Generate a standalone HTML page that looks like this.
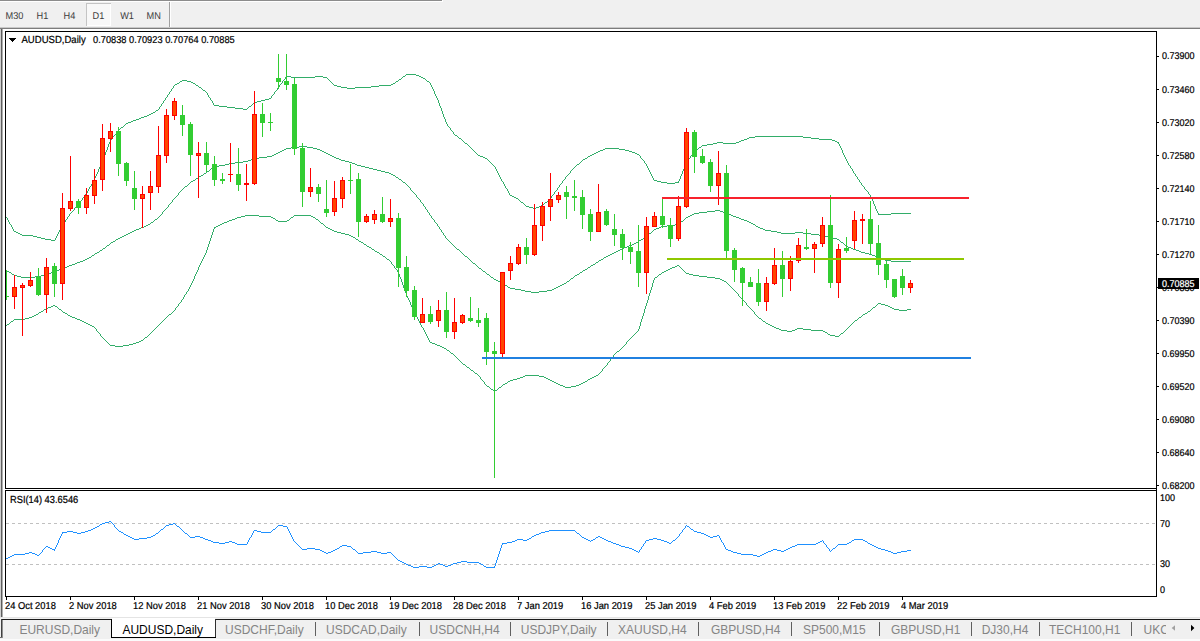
<!DOCTYPE html>
<html><head><meta charset="utf-8"><title>AUDUSD,Daily</title>
<style>
html,body{margin:0;padding:0;background:#fff;}
body{width:1200px;height:641px;position:relative;overflow:hidden;font-family:"Liberation Sans",sans-serif;}
#tb{position:absolute;left:0;top:0;width:1200px;height:27px;background:#f0f0f0;}
svg{position:absolute;left:0;top:0;}
</style></head><body>
<div id="tb">
</div>
<svg width="1200" height="641" viewBox="0 0 1200 641">
<g shape-rendering="crispEdges">
<rect x="0" y="0" width="442" height="1" fill="#8c8c8c"/>
<rect x="0" y="1" width="443" height="1" fill="#fff"/>
<rect x="442" y="0" width="1" height="2" fill="#fff"/>
<rect x="86" y="3" width="25" height="23" fill="#f8f8f8"/>
<rect x="86" y="3" width="25" height="1" fill="#c4c4c4"/>
<rect x="86" y="3" width="1" height="23" fill="#c4c4c4"/>
<rect x="110" y="4" width="1" height="22" fill="#fff"/>
<rect x="87" y="25" width="24" height="1" fill="#fff"/>
<rect x="169" y="2" width="1" height="25" fill="#a0a0a0"/>
<rect x="170" y="2" width="1" height="25" fill="#fff"/>
<rect x="0" y="27" width="1200" height="1" fill="#c8c8c8"/>
<rect x="0" y="28" width="1200" height="1" fill="#7c7c7c"/>
<rect x="0" y="29" width="1" height="589" fill="#d0d0d0"/>
<rect x="1" y="29" width="1" height="589" fill="#5e5e5e"/>
<rect x="2" y="29" width="1" height="589" fill="#b0b0b0"/>
<rect x="0" y="617" width="1200" height="1" fill="#e4e4e4"/>
<rect x="0" y="618" width="1200" height="21" fill="#f0f0f0"/>
<rect x="1" y="619" width="1199" height="1" fill="#1c1c1c"/>
<rect x="112" y="618" width="103" height="19" fill="#fff"/>
<rect x="111" y="619" width="1" height="19" fill="#000"/>
<rect x="215" y="619" width="1" height="19" fill="#303030"/>
<rect x="111" y="637" width="105" height="1" fill="#000"/>
<rect x="1" y="619" width="1" height="19" fill="#404040"/>
<rect x="2" y="620" width="1" height="18" fill="#909090"/>
<rect x="0" y="637" width="2" height="1" fill="#707070"/>
<rect x="0" y="639" width="1200" height="2" fill="#fbfbfb"/>
<rect x="315" y="622" width="1" height="14" fill="#606060"/><rect x="419" y="622" width="1" height="14" fill="#606060"/><rect x="510" y="622" width="1" height="14" fill="#606060"/><rect x="607" y="622" width="1" height="14" fill="#606060"/><rect x="698" y="622" width="1" height="14" fill="#606060"/><rect x="791" y="622" width="1" height="14" fill="#606060"/><rect x="879" y="622" width="1" height="14" fill="#606060"/><rect x="971" y="622" width="1" height="14" fill="#606060"/><rect x="1039" y="622" width="1" height="14" fill="#606060"/><rect x="1131" y="622" width="1" height="14" fill="#606060"/>
</g>
<g shape-rendering="crispEdges"><rect x="5" y="31" width="1152" height="1" fill="#000"/><rect x="5" y="31" width="1" height="458" fill="#000"/><rect x="5" y="488" width="1152" height="1" fill="#000"/><rect x="1156" y="31" width="1" height="566" fill="#000"/><rect x="5" y="490" width="1152" height="1" fill="#000"/><rect x="5" y="490" width="1" height="107" fill="#000"/><rect x="5" y="596" width="1152" height="1" fill="#000"/><rect x="1157" y="56" width="2" height="1" fill="#000"/><rect x="1157" y="89" width="2" height="1" fill="#000"/><rect x="1157" y="122" width="2" height="1" fill="#000"/><rect x="1157" y="155" width="2" height="1" fill="#000"/><rect x="1157" y="188" width="2" height="1" fill="#000"/><rect x="1157" y="221" width="2" height="1" fill="#000"/><rect x="1157" y="254" width="2" height="1" fill="#000"/><rect x="1157" y="287" width="2" height="1" fill="#000"/><rect x="1157" y="320" width="2" height="1" fill="#000"/><rect x="1157" y="353" width="2" height="1" fill="#000"/><rect x="1157" y="386" width="2" height="1" fill="#000"/><rect x="1157" y="419" width="2" height="1" fill="#000"/><rect x="1157" y="452" width="2" height="1" fill="#000"/><rect x="1157" y="485" width="2" height="1" fill="#000"/><line x1="6" y1="523.5" x2="1156" y2="523.5" stroke="#c0c0c0" stroke-width="1" stroke-dasharray="3,3"/><line x1="6" y1="564.5" x2="1156" y2="564.5" stroke="#c0c0c0" stroke-width="1" stroke-dasharray="3,3"/><rect x="6" y="597" width="1" height="3" fill="#000"/><rect x="70" y="597" width="1" height="3" fill="#000"/><rect x="134" y="597" width="1" height="3" fill="#000"/><rect x="198" y="597" width="1" height="3" fill="#000"/><rect x="262" y="597" width="1" height="3" fill="#000"/><rect x="326" y="597" width="1" height="3" fill="#000"/><rect x="390" y="597" width="1" height="3" fill="#000"/><rect x="454" y="597" width="1" height="3" fill="#000"/><rect x="518" y="597" width="1" height="3" fill="#000"/><rect x="582" y="597" width="1" height="3" fill="#000"/><rect x="646" y="597" width="1" height="3" fill="#000"/><rect x="710" y="597" width="1" height="3" fill="#000"/><rect x="774" y="597" width="1" height="3" fill="#000"/><rect x="838" y="597" width="1" height="3" fill="#000"/><rect x="902" y="597" width="1" height="3" fill="#000"/><rect x="1158" y="278" width="41" height="11" fill="#000"/><path d="M9 38 L16 38 L12.5 42 Z" fill="#000"/></g>
<path d="M6 217h1v1h-1zM7 218h1v2h-1zM8 220h1v2h-1zM9 222h1v2h-1zM10 224h1v1h-1zM11 225h1v2h-1zM12 227h1v2h-1zM13 229h1v2h-1zM14 231h2v1h-2zM16 232h2v1h-2zM18 233h2v1h-2zM20 234h2v1h-2zM22 235h11v1h-11zM33 236h4v1h-4zM37 237h4v1h-4zM41 238h4v1h-4zM45 239h6v1h-6zM51 240h4v1h-4zM55 238h1v2h-1zM56 236h1v2h-1zM57 234h1v2h-1zM58 232h1v2h-1zM59 230h1v2h-1zM60 228h1v2h-1zM61 226h1v2h-1zM62 225h1v1h-1zM63 223h1v2h-1zM64 222h1v1h-1zM65 220h1v2h-1zM66 219h1v1h-1zM67 217h1v2h-1zM68 216h1v1h-1zM69 214h1v2h-1zM70 213h1v1h-1zM71 212h1v1h-1zM72 211h1v1h-1zM73 210h1v1h-1zM74 208h1v2h-1zM75 207h1v1h-1zM76 206h1v1h-1zM77 205h1v1h-1zM78 204h1v1h-1zM79 202h1v2h-1zM80 201h1v1h-1zM81 200h1v1h-1zM82 198h1v2h-1zM83 197h1v1h-1zM84 196h1v1h-1zM85 194h1v2h-1zM86 193h1v1h-1zM87 191h1v2h-1zM88 189h1v2h-1zM89 187h1v2h-1zM90 186h1v1h-1zM91 184h1v2h-1zM92 182h1v2h-1zM93 180h1v2h-1zM94 178h1v2h-1zM95 176h1v2h-1zM96 174h1v2h-1zM97 172h1v2h-1zM98 169h1v3h-1zM99 167h1v2h-1zM100 165h1v2h-1zM101 163h1v2h-1zM102 160h1v3h-1zM103 158h1v2h-1zM104 155h1v3h-1zM105 152h1v3h-1zM106 150h1v2h-1zM107 147h1v3h-1zM108 144h1v3h-1zM109 142h1v2h-1zM110 140h1v2h-1zM111 139h1v1h-1zM112 137h1v2h-1zM113 136h1v1h-1zM114 135h1v1h-1zM115 134h1v1h-1zM116 132h1v2h-1zM117 131h1v1h-1zM118 130h1v1h-1zM119 129h1v1h-1zM120 128h1v1h-1zM121 127h2v1h-2zM123 126h1v1h-1zM124 125h1v1h-1zM125 124h1v1h-1zM126 123h2v1h-2zM128 122h3v1h-3zM131 121h2v1h-2zM133 120h3v1h-3zM136 119h3v1h-3zM139 118h2v1h-2zM141 117h3v1h-3zM144 116h3v1h-3zM147 115h2v1h-2zM149 114h2v1h-2zM151 113h2v1h-2zM153 112h2v1h-2zM155 111h1v1h-1zM156 110h2v1h-2zM158 109h1v1h-1zM159 107h1v2h-1zM160 106h1v1h-1zM161 104h1v2h-1zM162 103h1v1h-1zM163 101h1v2h-1zM164 100h1v1h-1zM165 98h1v2h-1zM166 97h1v1h-1zM167 95h1v2h-1zM168 94h1v1h-1zM169 92h1v2h-1zM170 91h1v1h-1zM171 89h1v2h-1zM172 88h1v1h-1zM173 86h1v2h-1zM174 85h1v1h-1zM175 84h2v1h-2zM177 83h2v1h-2zM179 82h1v1h-1zM180 81h2v1h-2zM182 80h5v1h-5zM187 81h4v1h-4zM191 82h2v1h-2zM193 83h2v1h-2zM195 84h1v1h-1zM196 85h2v1h-2zM198 86h1v1h-1zM199 87h2v1h-2zM201 88h1v1h-1zM202 89h1v1h-1zM203 90h2v1h-2zM205 91h1v1h-1zM206 92h1v1h-1zM207 93h1v2h-1zM208 95h1v2h-1zM209 97h1v1h-1zM210 98h1v2h-1zM211 100h1v1h-1zM212 101h1v2h-1zM213 103h1v2h-1zM214 105h5v1h-5zM219 106h8v1h-8zM227 107h8v1h-8zM235 108h8v1h-8zM243 109h4v1h-4zM247 108h1v1h-1zM248 107h1v1h-1zM249 106h2v1h-2zM251 105h1v1h-1zM252 104h1v1h-1zM253 103h1v1h-1zM254 102h3v1h-3zM257 101h4v1h-4zM261 100h4v1h-4zM265 99h4v1h-4zM269 98h2v1h-2zM271 96h1v2h-1zM272 95h1v1h-1zM273 94h1v1h-1zM274 92h1v2h-1zM275 91h1v1h-1zM276 90h1v1h-1zM277 88h1v2h-1zM278 87h1v1h-1zM279 85h1v2h-1zM280 84h1v1h-1zM281 83h1v1h-1zM282 81h1v2h-1zM283 80h1v1h-1zM284 79h1v1h-1zM285 77h1v2h-1zM286 76h5v1h-5zM291 77h24v1h-24zM315 76h8v1h-8zM323 77h4v1h-4zM327 78h1v1h-1zM328 79h1v1h-1zM329 80h1v1h-1zM330 81h1v1h-1zM331 82h1v1h-1zM332 83h1v1h-1zM333 84h1v1h-1zM334 85h3v1h-3zM337 86h4v1h-4zM341 87h6v1h-6zM347 88h8v1h-8zM355 87h16v1h-16zM371 86h8v1h-8zM379 85h12v1h-12zM391 84h2v1h-2zM393 83h2v1h-2zM395 82h1v1h-1zM396 81h2v1h-2zM398 80h1v1h-1zM399 79h2v1h-2zM401 78h1v1h-1zM402 77h1v1h-1zM403 76h2v1h-2zM405 75h1v1h-1zM406 74h10v1h-10zM416 75h3v1h-3zM419 76h2v1h-2zM421 77h2v1h-2zM423 78h2v1h-2zM425 79h1v1h-1zM426 80h1v1h-1zM427 81h2v1h-2zM429 82h1v1h-1zM430 83h1v2h-1zM431 85h1v2h-1zM432 87h1v2h-1zM433 89h1v2h-1zM434 91h1v3h-1zM435 94h1v2h-1zM436 96h1v2h-1zM437 98h1v2h-1zM438 100h1v3h-1zM439 103h1v3h-1zM440 106h1v2h-1zM441 108h1v3h-1zM442 111h1v3h-1zM443 114h1v3h-1zM444 117h1v2h-1zM445 119h1v3h-1zM446 122h1v2h-1zM447 124h1v2h-1zM448 126h1v1h-1zM449 127h1v1h-1zM450 128h1v2h-1zM451 130h1v1h-1zM452 131h1v1h-1zM453 132h1v2h-1zM454 134h1v1h-1zM455 135h2v1h-2zM457 136h1v1h-1zM458 137h1v1h-1zM459 138h2v1h-2zM461 139h1v1h-1zM462 140h1v1h-1zM463 141h1v1h-1zM464 142h1v1h-1zM465 143h2v1h-2zM467 144h1v1h-1zM468 145h1v1h-1zM469 146h1v1h-1zM470 147h1v1h-1zM471 148h1v1h-1zM472 149h1v1h-1zM473 150h1v1h-1zM474 151h1v1h-1zM475 152h1v1h-1zM476 153h1v1h-1zM477 154h1v1h-1zM478 155h2v1h-2zM480 156h3v1h-3zM483 157h2v1h-2zM485 158h2v1h-2zM487 159h1v1h-1zM488 160h1v1h-1zM489 161h1v1h-1zM490 162h1v1h-1zM491 163h1v1h-1zM492 164h1v1h-1zM493 165h1v1h-1zM494 166h1v1h-1zM495 167h1v2h-1zM496 169h1v2h-1zM497 171h1v2h-1zM498 173h1v2h-1zM499 175h1v2h-1zM500 177h1v2h-1zM501 179h1v2h-1zM502 181h1v1h-1zM503 182h1v2h-1zM504 184h1v2h-1zM505 186h1v2h-1zM506 188h1v1h-1zM507 189h1v2h-1zM508 191h1v2h-1zM509 193h1v2h-1zM510 195h2v1h-2zM512 196h2v1h-2zM514 197h2v1h-2zM516 198h2v1h-2zM518 199h1v1h-1zM519 200h1v1h-1zM520 201h1v1h-1zM521 202h2v1h-2zM523 203h1v1h-1zM524 204h1v1h-1zM525 205h1v1h-1zM526 206h3v1h-3zM529 207h4v1h-4zM533 208h3v1h-3zM536 207h3v1h-3zM539 206h2v1h-2zM541 205h2v1h-2zM543 204h1v1h-1zM544 203h1v1h-1zM545 202h2v1h-2zM547 201h1v1h-1zM548 200h1v1h-1zM549 199h1v1h-1zM550 198h1v1h-1zM551 196h1v2h-1zM552 195h1v1h-1zM553 194h1v1h-1zM554 192h1v2h-1zM555 191h1v1h-1zM556 190h1v1h-1zM557 188h1v2h-1zM558 187h1v1h-1zM559 185h1v2h-1zM560 184h1v1h-1zM561 183h1v1h-1zM562 181h1v2h-1zM563 180h1v1h-1zM564 179h1v1h-1zM565 177h1v2h-1zM566 176h1v1h-1zM567 175h1v1h-1zM568 174h1v1h-1zM569 173h1v1h-1zM570 171h1v2h-1zM571 170h1v1h-1zM572 169h1v1h-1zM573 168h1v1h-1zM574 167h1v1h-1zM575 166h1v1h-1zM576 165h1v1h-1zM577 164h2v1h-2zM579 163h1v1h-1zM580 162h1v1h-1zM581 161h1v1h-1zM582 160h1v1h-1zM583 159h2v1h-2zM585 158h2v1h-2zM587 157h1v1h-1zM588 156h2v1h-2zM590 155h2v1h-2zM592 154h2v1h-2zM594 153h2v1h-2zM596 152h2v1h-2zM598 151h2v1h-2zM600 150h3v1h-3zM603 149h2v1h-2zM605 148h14v1h-14zM619 149h6v1h-6zM625 150h4v1h-4zM629 151h3v1h-3zM632 152h3v1h-3zM635 153h2v1h-2zM637 154h2v1h-2zM639 155h1v1h-1zM640 156h1v2h-1zM641 158h1v1h-1zM642 159h1v1h-1zM643 160h1v1h-1zM644 161h1v2h-1zM645 163h1v1h-1zM646 164h1v2h-1zM647 166h1v2h-1zM648 168h1v2h-1zM649 170h1v2h-1zM650 172h1v2h-1zM651 174h1v2h-1zM652 176h1v2h-1zM653 178h1v2h-1zM654 180h3v1h-3zM657 181h4v1h-4zM661 182h6v1h-6zM667 183h8v1h-8zM675 182h4v1h-4zM678 181h1v1h-1zM679 179h1v2h-1zM680 176h1v3h-1zM681 174h1v2h-1zM682 171h1v3h-1zM683 169h1v2h-1zM684 166h1v3h-1zM685 164h1v2h-1zM686 162h1v2h-1zM687 160h1v2h-1zM688 159h1v1h-1zM689 158h1v1h-1zM690 156h1v2h-1zM691 155h1v1h-1zM692 154h1v1h-1zM693 152h1v2h-1zM694 151h1v1h-1zM695 150h2v1h-2zM697 149h1v1h-1zM698 148h1v1h-1zM699 147h2v1h-2zM701 146h1v1h-1zM702 145h5v1h-5zM707 144h6v1h-6zM713 143h4v1h-4zM717 142h6v1h-6zM723 143h13v1h-13zM736 142h3v1h-3zM739 141h2v1h-2zM741 140h3v1h-3zM744 139h3v1h-3zM747 138h2v1h-2zM749 137h6v1h-6zM755 136h48v1h-48zM803 137h8v1h-8zM811 138h8v1h-8zM819 139h13v1h-13zM832 140h3v1h-3zM835 141h2v1h-2zM837 142h2v1h-2zM838 143h1v1h-1zM839 144h1v2h-1zM840 146h1v2h-1zM841 148h1v2h-1zM842 150h1v3h-1zM843 153h1v2h-1zM844 155h1v2h-1zM845 157h1v2h-1zM846 159h1v2h-1zM847 161h1v2h-1zM848 163h1v2h-1zM849 165h1v1h-1zM850 166h1v2h-1zM851 168h1v1h-1zM852 169h1v2h-1zM853 171h1v2h-1zM854 173h1v1h-1zM855 174h1v2h-1zM856 176h1v1h-1zM857 177h1v2h-1zM858 179h1v1h-1zM859 180h1v2h-1zM860 182h1v1h-1zM861 183h1v2h-1zM862 185h1v1h-1zM863 186h1v1h-1zM864 187h1v2h-1zM865 189h1v1h-1zM866 190h1v1h-1zM867 191h1v1h-1zM868 192h1v2h-1zM869 194h1v1h-1zM870 195h1v2h-1zM871 197h1v2h-1zM872 199h1v2h-1zM873 201h1v3h-1zM874 204h1v2h-1zM875 206h1v3h-1zM876 209h1v2h-1zM877 211h1v2h-1zM878 213h1v1h-1zM878 214h13v1h-13zM891 213h20v1h-20z" fill="#32ad69" shape-rendering="crispEdges"/>
<path d="M6 270h1v1h-1zM7 271h2v1h-2zM9 272h2v1h-2zM11 273h1v1h-1zM12 274h2v1h-2zM14 275h3v1h-3zM17 276h4v1h-4zM21 277h14v1h-14zM35 276h6v1h-6zM41 275h4v1h-4zM45 274h3v1h-3zM48 273h3v1h-3zM51 272h2v1h-2zM53 271h3v1h-3zM56 270h3v1h-3zM59 269h2v1h-2zM61 268h3v1h-3zM64 267h3v1h-3zM67 266h2v1h-2zM69 265h3v1h-3zM72 264h3v1h-3zM75 263h2v1h-2zM77 262h3v1h-3zM80 261h3v1h-3zM83 260h2v1h-2zM85 259h2v1h-2zM87 258h2v1h-2zM89 257h2v1h-2zM91 256h1v1h-1zM92 255h2v1h-2zM94 254h1v1h-1zM95 253h2v1h-2zM97 252h2v1h-2zM99 251h1v1h-1zM100 250h2v1h-2zM102 249h1v1h-1zM103 248h2v1h-2zM105 247h1v1h-1zM106 246h1v1h-1zM107 245h2v1h-2zM109 244h1v1h-1zM110 243h1v1h-1zM111 242h2v1h-2zM113 241h2v1h-2zM115 240h1v1h-1zM116 239h2v1h-2zM118 238h2v1h-2zM120 237h2v1h-2zM122 236h2v1h-2zM124 235h2v1h-2zM126 234h2v1h-2zM128 233h2v1h-2zM130 232h2v1h-2zM132 231h2v1h-2zM134 230h2v1h-2zM136 229h3v1h-3zM139 228h2v1h-2zM141 227h3v1h-3zM144 226h2v1h-2zM146 225h2v1h-2zM148 224h2v1h-2zM150 223h1v1h-1zM151 222h2v1h-2zM153 221h1v1h-1zM154 220h1v1h-1zM155 219h2v1h-2zM157 218h1v1h-1zM158 217h1v1h-1zM159 216h1v1h-1zM160 215h1v1h-1zM161 214h1v1h-1zM162 212h1v2h-1zM163 211h1v1h-1zM164 210h1v1h-1zM165 209h1v1h-1zM166 208h1v1h-1zM167 207h1v1h-1zM168 205h1v2h-1zM169 204h1v1h-1zM170 203h1v1h-1zM171 202h1v1h-1zM172 200h1v2h-1zM173 199h1v1h-1zM174 198h1v1h-1zM175 197h1v1h-1zM176 196h1v1h-1zM177 195h1v1h-1zM178 193h1v2h-1zM179 192h1v1h-1zM180 191h1v1h-1zM181 190h1v1h-1zM182 189h1v1h-1zM183 188h1v1h-1zM184 187h1v1h-1zM185 186h2v1h-2zM187 185h1v1h-1zM188 184h1v1h-1zM189 183h1v1h-1zM190 182h1v1h-1zM191 181h2v1h-2zM193 180h2v1h-2zM195 179h1v1h-1zM196 178h2v1h-2zM198 177h1v1h-1zM199 176h2v1h-2zM201 175h2v1h-2zM203 174h1v1h-1zM204 173h2v1h-2zM206 172h1v1h-1zM207 171h2v1h-2zM209 170h1v1h-1zM210 169h1v1h-1zM211 168h2v1h-2zM213 167h1v1h-1zM214 166h5v1h-5zM219 165h6v1h-6zM225 164h4v1h-4zM229 163h6v1h-6zM235 162h8v1h-8zM243 161h5v1h-5zM248 160h3v1h-3zM251 159h2v1h-2zM253 158h6v1h-6zM259 157h8v1h-8zM267 156h5v1h-5zM272 155h2v1h-2zM274 154h2v1h-2zM276 153h2v1h-2zM278 152h2v1h-2zM280 151h2v1h-2zM282 150h2v1h-2zM284 149h2v1h-2zM286 148h5v1h-5zM291 147h8v1h-8zM299 146h8v1h-8zM307 147h6v1h-6zM313 148h4v1h-4zM317 149h3v1h-3zM320 150h2v1h-2zM322 151h2v1h-2zM324 152h2v1h-2zM326 153h2v1h-2zM328 154h2v1h-2zM330 155h2v1h-2zM332 156h2v1h-2zM334 157h2v1h-2zM336 158h3v1h-3zM339 159h2v1h-2zM341 160h4v1h-4zM345 161h4v1h-4zM349 162h3v1h-3zM352 163h3v1h-3zM355 164h2v1h-2zM357 165h4v1h-4zM361 166h4v1h-4zM365 167h4v1h-4zM369 168h4v1h-4zM373 169h4v1h-4zM377 170h4v1h-4zM381 171h4v1h-4zM385 172h4v1h-4zM389 173h2v1h-2zM391 174h2v1h-2zM393 175h2v1h-2zM395 176h1v1h-1zM396 177h2v1h-2zM398 178h1v1h-1zM399 179h2v1h-2zM401 180h1v1h-1zM402 181h1v1h-1zM403 182h2v1h-2zM405 183h1v1h-1zM406 184h1v1h-1zM407 185h1v1h-1zM408 186h1v1h-1zM409 187h1v1h-1zM410 188h1v2h-1zM411 190h1v1h-1zM412 191h1v1h-1zM413 192h1v1h-1zM414 193h1v1h-1zM415 194h1v1h-1zM416 195h1v2h-1zM417 197h1v1h-1zM418 198h1v1h-1zM419 199h1v1h-1zM420 200h1v2h-1zM421 202h1v1h-1zM422 203h1v1h-1zM423 204h1v2h-1zM424 206h1v1h-1zM425 207h1v2h-1zM426 209h1v1h-1zM427 210h1v2h-1zM428 212h1v1h-1zM429 213h1v2h-1zM430 215h1v1h-1zM431 216h1v2h-1zM432 218h1v1h-1zM433 219h1v1h-1zM434 220h1v2h-1zM435 222h1v1h-1zM436 223h1v1h-1zM437 224h1v2h-1zM438 226h1v1h-1zM439 227h1v2h-1zM440 229h1v1h-1zM441 230h1v2h-1zM442 232h1v1h-1zM443 233h1v2h-1zM444 235h1v1h-1zM445 236h1v2h-1zM446 238h1v1h-1zM447 239h1v1h-1zM448 240h1v1h-1zM449 241h1v1h-1zM450 242h1v1h-1zM451 243h1v1h-1zM452 244h1v1h-1zM453 245h1v1h-1zM454 246h1v1h-1zM455 247h1v1h-1zM456 248h1v1h-1zM457 249h2v1h-2zM459 250h1v1h-1zM460 251h1v1h-1zM461 252h1v1h-1zM462 253h1v1h-1zM463 254h1v1h-1zM464 255h1v1h-1zM465 256h2v1h-2zM467 257h1v1h-1zM468 258h1v1h-1zM469 259h1v1h-1zM470 260h1v1h-1zM471 261h1v1h-1zM472 262h1v1h-1zM473 263h2v1h-2zM475 264h1v1h-1zM476 265h1v1h-1zM477 266h1v1h-1zM478 267h1v1h-1zM479 268h2v1h-2zM481 269h1v1h-1zM482 270h1v1h-1zM483 271h2v1h-2zM485 272h1v1h-1zM486 273h1v1h-1zM487 274h2v1h-2zM489 275h1v1h-1zM490 276h1v1h-1zM491 277h2v1h-2zM493 278h1v1h-1zM494 279h2v1h-2zM496 280h2v1h-2zM498 281h2v1h-2zM500 282h2v1h-2zM502 283h1v1h-1zM503 284h2v1h-2zM505 285h2v1h-2zM507 286h1v1h-1zM508 287h2v1h-2zM510 288h5v1h-5zM515 289h6v1h-6zM521 290h4v1h-4zM525 291h6v1h-6zM531 292h8v1h-8zM539 291h8v1h-8zM547 290h5v1h-5zM552 289h2v1h-2zM554 288h2v1h-2zM556 287h2v1h-2zM558 286h2v1h-2zM560 285h2v1h-2zM562 284h2v1h-2zM564 283h2v1h-2zM566 282h1v1h-1zM567 281h2v1h-2zM569 280h1v1h-1zM570 279h1v1h-1zM571 278h2v1h-2zM573 277h1v1h-1zM574 276h1v1h-1zM575 275h2v1h-2zM577 274h2v1h-2zM579 273h1v1h-1zM580 272h2v1h-2zM582 271h1v1h-1zM583 270h2v1h-2zM585 269h2v1h-2zM587 268h1v1h-1zM588 267h2v1h-2zM590 266h1v1h-1zM591 265h2v1h-2zM593 264h2v1h-2zM595 263h1v1h-1zM596 262h2v1h-2zM598 261h1v1h-1zM599 260h2v1h-2zM601 259h2v1h-2zM603 258h1v1h-1zM604 257h2v1h-2zM606 256h2v1h-2zM608 255h2v1h-2zM610 254h2v1h-2zM612 253h2v1h-2zM614 252h2v1h-2zM616 251h2v1h-2zM618 250h2v1h-2zM620 249h2v1h-2zM622 248h2v1h-2zM624 247h3v1h-3zM627 246h2v1h-2zM629 245h3v1h-3zM632 244h2v1h-2zM634 243h2v1h-2zM636 242h2v1h-2zM638 241h1v1h-1zM639 240h2v1h-2zM641 239h2v1h-2zM643 238h1v1h-1zM644 237h2v1h-2zM646 236h1v1h-1zM647 235h1v1h-1zM648 234h1v1h-1zM649 233h2v1h-2zM651 232h1v1h-1zM652 231h1v1h-1zM653 230h1v1h-1zM654 229h2v1h-2zM656 228h3v1h-3zM659 227h2v1h-2zM661 226h6v1h-6zM667 225h8v1h-8zM675 224h4v1h-4zM679 223h1v1h-1zM680 222h1v1h-1zM681 221h2v1h-2zM683 220h1v1h-1zM684 219h1v1h-1zM685 218h1v1h-1zM686 217h2v1h-2zM688 216h2v1h-2zM690 215h2v1h-2zM692 214h2v1h-2zM694 213h5v1h-5zM699 212h8v1h-8zM707 211h8v1h-8zM715 210h5v1h-5zM720 211h3v1h-3zM723 212h2v1h-2zM725 213h3v1h-3zM728 214h3v1h-3zM731 215h2v1h-2zM733 216h3v1h-3zM736 217h3v1h-3zM739 218h2v1h-2zM741 219h3v1h-3zM744 220h3v1h-3zM747 221h2v1h-2zM749 222h2v1h-2zM751 223h2v1h-2zM753 224h2v1h-2zM755 225h1v1h-1zM756 226h2v1h-2zM758 227h2v1h-2zM760 228h3v1h-3zM763 229h2v1h-2zM765 230h6v1h-6zM771 231h6v1h-6zM777 232h4v1h-4zM781 233h14v1h-14zM795 232h8v1h-8zM803 233h8v1h-8zM811 234h8v1h-8zM819 235h6v1h-6zM825 236h4v1h-4zM829 237h4v1h-4zM833 238h4v1h-4zM837 239h2v1h-2zM839 240h1v1h-1zM840 241h1v1h-1zM841 242h2v1h-2zM843 243h1v1h-1zM844 244h1v1h-1zM845 245h1v1h-1zM846 246h2v1h-2zM848 247h3v1h-3zM851 248h2v1h-2zM853 249h3v1h-3zM856 250h3v1h-3zM859 251h2v1h-2zM861 252h4v1h-4zM865 253h4v1h-4zM869 254h3v1h-3zM872 255h3v1h-3zM875 256h2v1h-2zM877 257h3v1h-3zM880 258h3v1h-3zM883 259h2v1h-2zM885 260h6v1h-6zM891 261h20v1h-20z" fill="#32ad69" shape-rendering="crispEdges"/>
<path d="M6 325h1v1h-1zM7 324h2v1h-2zM9 323h1v1h-1zM10 322h1v1h-1zM11 321h2v1h-2zM13 320h1v1h-1zM14 319h11v1h-11zM25 318h4v1h-4zM29 317h3v1h-3zM32 316h2v1h-2zM34 315h2v1h-2zM36 314h2v1h-2zM38 313h1v1h-1zM39 312h2v1h-2zM41 311h2v1h-2zM43 310h1v1h-1zM44 309h2v1h-2zM46 308h2v1h-2zM48 307h3v1h-3zM51 306h2v1h-2zM53 305h2v1h-2zM55 306h2v1h-2zM57 307h1v1h-1zM58 308h1v1h-1zM59 309h2v1h-2zM61 310h1v1h-1zM62 311h1v1h-1zM63 312h2v1h-2zM65 313h2v1h-2zM67 314h1v1h-1zM68 315h2v1h-2zM70 316h2v1h-2zM72 317h3v1h-3zM75 318h2v1h-2zM77 319h3v1h-3zM80 320h2v1h-2zM82 321h2v1h-2zM84 322h2v1h-2zM86 323h2v1h-2zM88 324h2v1h-2zM90 325h2v1h-2zM92 326h2v1h-2zM94 327h1v1h-1zM95 328h1v1h-1zM96 329h1v2h-1zM97 331h1v1h-1zM98 332h1v1h-1zM99 333h1v1h-1zM100 334h1v2h-1zM101 336h1v1h-1zM102 337h1v1h-1zM103 338h1v1h-1zM104 339h1v1h-1zM105 340h1v1h-1zM106 341h1v1h-1zM107 342h1v1h-1zM108 343h1v1h-1zM109 344h1v1h-1zM110 345h5v1h-5zM115 346h8v1h-8zM123 345h6v1h-6zM129 344h4v1h-4zM133 343h3v1h-3zM136 342h3v1h-3zM139 341h2v1h-2zM141 340h2v1h-2zM143 339h1v1h-1zM144 338h1v1h-1zM145 337h2v1h-2zM147 336h1v1h-1zM148 335h1v1h-1zM149 334h1v1h-1zM150 333h1v1h-1zM151 332h1v1h-1zM152 331h1v1h-1zM153 330h1v1h-1zM154 329h1v1h-1zM155 328h1v1h-1zM156 327h1v1h-1zM157 326h1v1h-1zM158 325h1v1h-1zM159 324h1v1h-1zM160 323h1v1h-1zM161 322h1v1h-1zM162 321h1v1h-1zM163 320h1v1h-1zM164 319h1v1h-1zM165 318h1v1h-1zM166 317h1v1h-1zM167 316h1v1h-1zM168 315h1v1h-1zM169 314h2v1h-2zM171 313h1v1h-1zM172 312h1v1h-1zM173 311h1v1h-1zM174 310h1v1h-1zM175 308h1v2h-1zM176 307h1v1h-1zM177 306h1v1h-1zM178 304h1v2h-1zM179 303h1v1h-1zM180 302h1v1h-1zM181 300h1v2h-1zM182 299h1v1h-1zM183 297h1v2h-1zM184 295h1v2h-1zM185 294h1v1h-1zM186 292h1v2h-1zM187 291h1v1h-1zM188 289h1v2h-1zM189 287h1v2h-1zM190 285h1v2h-1zM191 283h1v2h-1zM192 281h1v2h-1zM193 279h1v2h-1zM194 276h1v3h-1zM195 274h1v2h-1zM196 272h1v2h-1zM197 270h1v2h-1zM198 267h1v3h-1zM199 265h1v2h-1zM200 263h1v2h-1zM201 261h1v2h-1zM202 259h1v2h-1zM203 257h1v2h-1zM204 255h1v2h-1zM205 253h1v2h-1zM206 250h1v3h-1zM207 247h1v3h-1zM208 244h1v3h-1zM209 241h1v3h-1zM210 238h1v3h-1zM211 235h1v3h-1zM212 232h1v3h-1zM213 229h1v3h-1zM214 227h2v1h-2zM214 228h1v1h-1zM216 226h2v1h-2zM218 225h2v1h-2zM220 224h2v1h-2zM222 223h2v1h-2zM224 222h3v1h-3zM227 221h2v1h-2zM229 220h3v1h-3zM232 219h3v1h-3zM235 218h2v1h-2zM237 217h4v1h-4zM241 216h4v1h-4zM245 215h14v1h-14zM259 216h12v1h-12zM271 217h2v1h-2zM273 218h2v1h-2zM275 219h1v1h-1zM276 220h2v1h-2zM278 221h9v1h-9zM287 220h2v1h-2zM289 219h1v1h-1zM290 218h1v1h-1zM291 217h2v1h-2zM293 216h1v1h-1zM294 215h17v1h-17zM311 216h2v1h-2zM313 217h2v1h-2zM315 218h1v1h-1zM316 219h2v1h-2zM318 220h1v1h-1zM319 221h1v1h-1zM320 222h1v1h-1zM321 223h2v1h-2zM323 224h1v1h-1zM324 225h1v1h-1zM325 226h1v1h-1zM326 227h2v1h-2zM328 228h2v1h-2zM330 229h2v1h-2zM332 230h2v1h-2zM334 231h3v1h-3zM337 232h4v1h-4zM341 233h4v1h-4zM345 234h4v1h-4zM349 235h2v1h-2zM351 236h2v1h-2zM353 237h2v1h-2zM355 238h1v1h-1zM356 239h2v1h-2zM358 240h1v1h-1zM359 241h2v1h-2zM361 242h2v1h-2zM363 243h1v1h-1zM364 244h2v1h-2zM366 245h1v1h-1zM367 246h2v1h-2zM369 247h2v1h-2zM371 248h1v1h-1zM372 249h2v1h-2zM374 250h1v1h-1zM375 251h2v1h-2zM377 252h2v1h-2zM379 253h1v1h-1zM380 254h2v1h-2zM382 255h1v1h-1zM383 256h2v1h-2zM385 257h1v1h-1zM386 258h1v1h-1zM387 259h2v1h-2zM389 260h1v1h-1zM390 261h1v1h-1zM391 262h1v2h-1zM392 264h1v1h-1zM393 265h1v1h-1zM394 266h1v2h-1zM395 268h1v1h-1zM396 269h1v1h-1zM397 270h1v2h-1zM398 272h1v2h-1zM399 274h1v3h-1zM400 277h1v2h-1zM401 279h1v3h-1zM402 282h1v3h-1zM403 285h1v3h-1zM404 288h1v2h-1zM405 290h1v3h-1zM406 293h1v3h-1zM407 296h1v2h-1zM408 298h1v2h-1zM409 300h1v2h-1zM410 302h1v3h-1zM411 305h1v2h-1zM412 307h1v2h-1zM413 309h1v2h-1zM414 311h1v2h-1zM415 313h1v2h-1zM416 315h1v2h-1zM417 317h1v2h-1zM418 319h1v2h-1zM419 321h1v2h-1zM420 323h1v2h-1zM421 325h1v2h-1zM422 327h1v1h-1zM423 328h1v2h-1zM424 330h1v2h-1zM425 332h1v2h-1zM426 334h1v2h-1zM427 336h1v2h-1zM428 338h1v2h-1zM429 340h1v2h-1zM430 342h2v1h-2zM432 343h3v1h-3zM435 344h2v1h-2zM437 345h3v1h-3zM440 346h2v1h-2zM442 347h2v1h-2zM444 348h2v1h-2zM446 349h1v1h-1zM447 350h2v1h-2zM449 351h1v1h-1zM450 352h1v1h-1zM451 353h2v1h-2zM453 354h1v1h-1zM454 355h1v1h-1zM455 356h1v1h-1zM456 357h1v1h-1zM457 358h1v1h-1zM458 359h1v1h-1zM459 360h1v1h-1zM460 361h1v1h-1zM461 362h1v1h-1zM462 363h1v1h-1zM463 364h2v1h-2zM465 365h1v1h-1zM466 366h1v1h-1zM467 367h2v1h-2zM469 368h1v1h-1zM470 369h1v1h-1zM471 370h2v1h-2zM473 371h1v1h-1zM474 372h1v1h-1zM475 373h2v1h-2zM477 374h1v1h-1zM478 375h1v1h-1zM479 376h1v1h-1zM480 377h1v2h-1zM481 379h1v1h-1zM482 380h1v1h-1zM483 381h1v1h-1zM484 382h1v2h-1zM485 384h1v1h-1zM486 385h1v1h-1zM487 386h2v1h-2zM489 387h1v1h-1zM490 388h1v1h-1zM491 389h2v1h-2zM493 390h1v1h-1zM494 391h1v1h-1zM495 390h2v1h-2zM497 389h1v1h-1zM498 388h1v1h-1zM499 387h2v1h-2zM501 386h1v1h-1zM502 385h1v1h-1zM503 384h2v1h-2zM505 383h2v1h-2zM507 382h1v1h-1zM508 381h2v1h-2zM510 380h3v1h-3zM513 379h4v1h-4zM517 378h3v1h-3zM520 377h3v1h-3zM523 376h2v1h-2zM525 375h14v1h-14zM539 376h5v1h-5zM544 377h2v1h-2zM546 378h2v1h-2zM548 379h2v1h-2zM550 380h2v1h-2zM552 381h2v1h-2zM554 382h2v1h-2zM556 383h2v1h-2zM558 384h2v1h-2zM560 385h3v1h-3zM563 386h2v1h-2zM565 387h6v1h-6zM571 386h5v1h-5zM576 385h3v1h-3zM579 384h2v1h-2zM581 383h2v1h-2zM583 382h2v1h-2zM585 381h2v1h-2zM587 380h1v1h-1zM588 379h2v1h-2zM590 378h2v1h-2zM592 377h2v1h-2zM594 376h2v1h-2zM596 375h2v1h-2zM598 374h1v1h-1zM599 373h1v1h-1zM600 372h1v1h-1zM601 371h1v1h-1zM602 369h1v2h-1zM603 368h1v1h-1zM604 367h1v1h-1zM605 366h1v1h-1zM606 365h1v1h-1zM607 363h1v2h-1zM608 362h1v1h-1zM609 361h1v1h-1zM610 359h1v2h-1zM611 358h1v1h-1zM612 357h1v1h-1zM613 355h1v2h-1zM614 354h1v1h-1zM615 353h1v1h-1zM616 352h1v1h-1zM617 351h2v1h-2zM619 350h1v1h-1zM620 349h1v1h-1zM621 348h1v1h-1zM622 347h1v1h-1zM623 346h1v1h-1zM624 345h1v1h-1zM625 344h1v1h-1zM626 342h1v2h-1zM627 341h1v1h-1zM628 340h1v1h-1zM629 339h1v1h-1zM630 338h1v1h-1zM631 337h1v1h-1zM632 336h1v1h-1zM633 335h1v1h-1zM634 334h1v1h-1zM635 333h1v1h-1zM636 332h1v1h-1zM637 331h1v1h-1zM638 329h1v2h-1zM639 326h1v3h-1zM640 322h1v4h-1zM641 319h1v3h-1zM642 316h1v3h-1zM643 313h1v3h-1zM644 309h1v4h-1zM645 306h1v3h-1zM646 303h1v3h-1zM647 300h1v3h-1zM648 296h1v4h-1zM649 293h1v3h-1zM650 290h1v3h-1zM651 287h1v3h-1zM652 283h1v4h-1zM653 280h1v3h-1zM654 278h1v2h-1zM655 277h2v1h-2zM657 276h1v1h-1zM658 275h1v1h-1zM659 274h2v1h-2zM661 273h1v1h-1zM662 272h2v1h-2zM664 271h2v1h-2zM666 270h2v1h-2zM668 269h2v1h-2zM670 268h2v1h-2zM672 267h3v1h-3zM675 266h2v1h-2zM677 265h2v1h-2zM679 266h1v1h-1zM680 267h1v1h-1zM681 268h1v1h-1zM682 269h1v1h-1zM683 270h1v1h-1zM684 271h1v1h-1zM685 272h1v1h-1zM686 273h3v1h-3zM689 274h4v1h-4zM693 275h6v1h-6zM699 276h8v1h-8zM707 277h8v1h-8zM715 278h5v1h-5zM720 279h2v1h-2zM722 280h2v1h-2zM724 281h2v1h-2zM726 282h1v1h-1zM727 283h1v1h-1zM728 284h1v1h-1zM729 285h1v1h-1zM730 286h1v1h-1zM731 287h1v1h-1zM732 288h1v1h-1zM733 289h1v1h-1zM734 290h1v1h-1zM735 291h1v1h-1zM736 292h1v1h-1zM737 293h1v1h-1zM738 294h1v2h-1zM739 296h1v1h-1zM740 297h1v1h-1zM741 298h1v1h-1zM742 299h1v1h-1zM743 300h1v1h-1zM744 301h1v1h-1zM745 302h1v1h-1zM746 303h1v2h-1zM747 305h1v1h-1zM748 306h1v1h-1zM749 307h1v1h-1zM750 308h1v1h-1zM751 309h1v1h-1zM752 310h1v1h-1zM753 311h1v1h-1zM754 312h1v2h-1zM755 314h1v1h-1zM756 315h1v1h-1zM757 316h1v1h-1zM758 317h1v1h-1zM759 318h2v1h-2zM761 319h1v1h-1zM762 320h1v1h-1zM763 321h2v1h-2zM765 322h1v1h-1zM766 323h2v1h-2zM768 324h2v1h-2zM770 325h2v1h-2zM772 326h2v1h-2zM774 327h2v1h-2zM776 328h3v1h-3zM779 329h2v1h-2zM781 330h6v1h-6zM787 331h5v1h-5zM792 330h3v1h-3zM795 329h2v1h-2zM797 328h6v1h-6zM803 329h8v1h-8zM811 330h12v1h-12zM823 331h2v1h-2zM825 332h2v1h-2zM827 333h1v1h-1zM828 334h2v1h-2zM830 335h5v1h-5zM835 336h4v1h-4zM839 335h1v1h-1zM840 334h1v1h-1zM841 333h2v1h-2zM843 332h1v1h-1zM844 331h1v1h-1zM845 330h1v1h-1zM846 329h1v1h-1zM847 328h1v1h-1zM848 327h1v1h-1zM849 326h1v1h-1zM850 325h1v1h-1zM851 324h1v1h-1zM852 323h1v1h-1zM853 322h1v1h-1zM854 321h1v1h-1zM855 320h2v1h-2zM857 319h1v1h-1zM858 318h1v1h-1zM859 317h2v1h-2zM861 316h1v1h-1zM862 315h1v1h-1zM863 314h2v1h-2zM865 313h2v1h-2zM867 312h1v1h-1zM868 311h2v1h-2zM870 310h1v1h-1zM871 309h1v1h-1zM872 308h1v1h-1zM873 307h2v1h-2zM875 306h1v1h-1zM876 305h1v1h-1zM877 304h1v1h-1zM878 303h3v1h-3zM881 304h4v1h-4zM885 305h3v1h-3zM888 306h2v1h-2zM890 307h2v1h-2zM892 308h2v1h-2zM894 309h5v1h-5zM899 310h8v1h-8zM907 309h4v1h-4z" fill="#32ad69" shape-rendering="crispEdges"/>
<g shape-rendering="crispEdges"><rect x="6" y="270" width="1" height="30" fill="#32cd32"/><rect x="6" y="296" width="3" height="1" fill="#32cd32"/><rect x="14" y="275" width="1" height="34" fill="#ff0000"/><rect x="12" y="287" width="5" height="10" fill="#ff0000"/><rect x="13" y="288" width="3" height="8" fill="#ff4500"/><rect x="22" y="283" width="1" height="53" fill="#ff0000"/><rect x="20" y="285" width="5" height="3" fill="#ff0000"/><rect x="21" y="286" width="3" height="1" fill="#ff4500"/><rect x="30" y="272" width="1" height="15" fill="#ff0000"/><rect x="28" y="280" width="5" height="6" fill="#ff0000"/><rect x="29" y="281" width="3" height="4" fill="#ff4500"/><rect x="38" y="268" width="1" height="28" fill="#32cd32"/><rect x="36" y="277" width="5" height="18" fill="#32cd32"/><rect x="46" y="258" width="1" height="55" fill="#ff0000"/><rect x="44" y="267" width="5" height="28" fill="#ff0000"/><rect x="45" y="268" width="3" height="26" fill="#ff4500"/><rect x="54" y="263" width="1" height="34" fill="#32cd32"/><rect x="52" y="266" width="5" height="18" fill="#32cd32"/><rect x="62" y="193" width="1" height="107" fill="#ff0000"/><rect x="60" y="208" width="5" height="76" fill="#ff0000"/><rect x="61" y="209" width="3" height="74" fill="#ff4500"/><rect x="70" y="156" width="1" height="55" fill="#ff0000"/><rect x="68" y="201" width="5" height="8" fill="#ff0000"/><rect x="69" y="202" width="3" height="6" fill="#ff4500"/><rect x="78" y="199" width="1" height="15" fill="#32cd32"/><rect x="76" y="201" width="5" height="7" fill="#32cd32"/><rect x="86" y="188" width="1" height="26" fill="#ff0000"/><rect x="84" y="195" width="5" height="13" fill="#ff0000"/><rect x="85" y="196" width="3" height="11" fill="#ff4500"/><rect x="94" y="169" width="1" height="35" fill="#ff0000"/><rect x="92" y="180" width="5" height="16" fill="#ff0000"/><rect x="93" y="181" width="3" height="14" fill="#ff4500"/><rect x="102" y="124" width="1" height="67" fill="#ff0000"/><rect x="100" y="138" width="5" height="42" fill="#ff0000"/><rect x="101" y="139" width="3" height="40" fill="#ff4500"/><rect x="110" y="123" width="1" height="29" fill="#ff0000"/><rect x="108" y="131" width="5" height="8" fill="#ff0000"/><rect x="109" y="132" width="3" height="6" fill="#ff4500"/><rect x="118" y="127" width="1" height="49" fill="#32cd32"/><rect x="116" y="131" width="5" height="33" fill="#32cd32"/><rect x="126" y="162" width="1" height="24" fill="#32cd32"/><rect x="124" y="163" width="5" height="18" fill="#32cd32"/><rect x="134" y="171" width="1" height="39" fill="#32cd32"/><rect x="132" y="188" width="5" height="11" fill="#32cd32"/><rect x="142" y="186" width="1" height="42" fill="#ff0000"/><rect x="140" y="194" width="5" height="5" fill="#ff0000"/><rect x="141" y="195" width="3" height="3" fill="#ff4500"/><rect x="150" y="171" width="1" height="39" fill="#ff0000"/><rect x="148" y="186" width="5" height="7" fill="#ff0000"/><rect x="149" y="187" width="3" height="5" fill="#ff4500"/><rect x="158" y="126" width="1" height="67" fill="#ff0000"/><rect x="156" y="155" width="5" height="32" fill="#ff0000"/><rect x="157" y="156" width="3" height="30" fill="#ff4500"/><rect x="166" y="109" width="1" height="54" fill="#ff0000"/><rect x="164" y="115" width="5" height="41" fill="#ff0000"/><rect x="165" y="116" width="3" height="39" fill="#ff4500"/><rect x="174" y="98" width="1" height="22" fill="#ff0000"/><rect x="172" y="101" width="5" height="15" fill="#ff0000"/><rect x="173" y="102" width="3" height="13" fill="#ff4500"/><rect x="182" y="105" width="1" height="31" fill="#32cd32"/><rect x="180" y="115" width="5" height="10" fill="#32cd32"/><rect x="190" y="122" width="1" height="54" fill="#32cd32"/><rect x="188" y="124" width="5" height="31" fill="#32cd32"/><rect x="198" y="142" width="1" height="56" fill="#ff0000"/><rect x="196" y="153" width="5" height="3" fill="#ff0000"/><rect x="197" y="154" width="3" height="1" fill="#ff4500"/><rect x="206" y="142" width="1" height="30" fill="#32cd32"/><rect x="204" y="153" width="5" height="12" fill="#32cd32"/><rect x="214" y="156" width="1" height="30" fill="#32cd32"/><rect x="212" y="164" width="5" height="16" fill="#32cd32"/><rect x="222" y="173" width="1" height="11" fill="#32cd32"/><rect x="220" y="179" width="5" height="2" fill="#32cd32"/><rect x="230" y="143" width="1" height="39" fill="#ff0000"/><rect x="228" y="174" width="5" height="1" fill="#ff0000"/><rect x="238" y="148" width="1" height="43" fill="#32cd32"/><rect x="236" y="174" width="5" height="11" fill="#32cd32"/><rect x="246" y="164" width="1" height="37" fill="#ff0000"/><rect x="244" y="183" width="5" height="2" fill="#ff0000"/><rect x="254" y="91" width="1" height="94" fill="#ff0000"/><rect x="252" y="114" width="5" height="70" fill="#ff0000"/><rect x="253" y="115" width="3" height="68" fill="#ff4500"/><rect x="262" y="103" width="1" height="34" fill="#32cd32"/><rect x="260" y="114" width="5" height="9" fill="#32cd32"/><rect x="270" y="113" width="1" height="18" fill="#32cd32"/><rect x="268" y="122" width="5" height="1" fill="#32cd32"/><rect x="278" y="54" width="1" height="35" fill="#32cd32"/><rect x="276" y="78" width="5" height="4" fill="#32cd32"/><rect x="286" y="54" width="1" height="36" fill="#32cd32"/><rect x="284" y="81" width="5" height="4" fill="#32cd32"/><rect x="294" y="78" width="1" height="77" fill="#32cd32"/><rect x="292" y="84" width="5" height="65" fill="#32cd32"/><rect x="302" y="143" width="1" height="64" fill="#32cd32"/><rect x="300" y="148" width="5" height="44" fill="#32cd32"/><rect x="310" y="168" width="1" height="29" fill="#ff0000"/><rect x="308" y="187" width="5" height="5" fill="#ff0000"/><rect x="309" y="188" width="3" height="3" fill="#ff4500"/><rect x="318" y="184" width="1" height="18" fill="#32cd32"/><rect x="316" y="187" width="5" height="7" fill="#32cd32"/><rect x="326" y="180" width="1" height="37" fill="#32cd32"/><rect x="324" y="209" width="5" height="4" fill="#32cd32"/><rect x="334" y="181" width="1" height="35" fill="#ff0000"/><rect x="332" y="198" width="5" height="14" fill="#ff0000"/><rect x="333" y="199" width="3" height="12" fill="#ff4500"/><rect x="342" y="177" width="1" height="31" fill="#ff0000"/><rect x="340" y="180" width="5" height="19" fill="#ff0000"/><rect x="341" y="181" width="3" height="17" fill="#ff4500"/><rect x="350" y="164" width="1" height="30" fill="#32cd32"/><rect x="348" y="180" width="5" height="1" fill="#32cd32"/><rect x="358" y="173" width="1" height="64" fill="#32cd32"/><rect x="356" y="179" width="5" height="43" fill="#32cd32"/><rect x="366" y="214" width="1" height="9" fill="#ff0000"/><rect x="364" y="216" width="5" height="6" fill="#ff0000"/><rect x="365" y="217" width="3" height="4" fill="#ff4500"/><rect x="374" y="210" width="1" height="14" fill="#ff0000"/><rect x="372" y="214" width="5" height="6" fill="#ff0000"/><rect x="373" y="215" width="3" height="4" fill="#ff4500"/><rect x="382" y="197" width="1" height="26" fill="#32cd32"/><rect x="380" y="214" width="5" height="8" fill="#32cd32"/><rect x="390" y="199" width="1" height="28" fill="#ff0000"/><rect x="388" y="218" width="5" height="4" fill="#ff0000"/><rect x="389" y="219" width="3" height="2" fill="#ff4500"/><rect x="398" y="213" width="1" height="74" fill="#32cd32"/><rect x="396" y="218" width="5" height="50" fill="#32cd32"/><rect x="406" y="256" width="1" height="41" fill="#32cd32"/><rect x="404" y="267" width="5" height="24" fill="#32cd32"/><rect x="414" y="286" width="1" height="34" fill="#32cd32"/><rect x="412" y="290" width="5" height="27" fill="#32cd32"/><rect x="422" y="298" width="1" height="25" fill="#ff0000"/><rect x="420" y="314" width="5" height="9" fill="#ff0000"/><rect x="421" y="315" width="3" height="7" fill="#ff4500"/><rect x="430" y="306" width="1" height="18" fill="#32cd32"/><rect x="428" y="314" width="5" height="8" fill="#32cd32"/><rect x="438" y="300" width="1" height="27" fill="#ff0000"/><rect x="436" y="310" width="5" height="11" fill="#ff0000"/><rect x="437" y="311" width="3" height="9" fill="#ff4500"/><rect x="446" y="292" width="1" height="46" fill="#32cd32"/><rect x="444" y="310" width="5" height="22" fill="#32cd32"/><rect x="454" y="298" width="1" height="41" fill="#ff0000"/><rect x="452" y="322" width="5" height="10" fill="#ff0000"/><rect x="453" y="323" width="3" height="8" fill="#ff4500"/><rect x="462" y="314" width="1" height="10" fill="#ff0000"/><rect x="460" y="315" width="5" height="8" fill="#ff0000"/><rect x="461" y="316" width="3" height="6" fill="#ff4500"/><rect x="470" y="297" width="1" height="25" fill="#32cd32"/><rect x="468" y="318" width="5" height="3" fill="#32cd32"/><rect x="478" y="308" width="1" height="19" fill="#32cd32"/><rect x="476" y="320" width="5" height="3" fill="#32cd32"/><rect x="486" y="313" width="1" height="52" fill="#32cd32"/><rect x="484" y="318" width="5" height="34" fill="#32cd32"/><rect x="494" y="342" width="1" height="136" fill="#32cd32"/><rect x="492" y="351" width="5" height="3" fill="#32cd32"/><rect x="502" y="272" width="1" height="85" fill="#ff0000"/><rect x="500" y="272" width="5" height="82" fill="#ff0000"/><rect x="501" y="273" width="3" height="80" fill="#ff4500"/><rect x="510" y="256" width="1" height="24" fill="#ff0000"/><rect x="508" y="263" width="5" height="8" fill="#ff0000"/><rect x="509" y="264" width="3" height="6" fill="#ff4500"/><rect x="518" y="244" width="1" height="21" fill="#ff0000"/><rect x="516" y="247" width="5" height="17" fill="#ff0000"/><rect x="517" y="248" width="3" height="15" fill="#ff4500"/><rect x="526" y="238" width="1" height="26" fill="#32cd32"/><rect x="524" y="247" width="5" height="8" fill="#32cd32"/><rect x="534" y="204" width="1" height="52" fill="#ff0000"/><rect x="532" y="225" width="5" height="30" fill="#ff0000"/><rect x="533" y="226" width="3" height="28" fill="#ff4500"/><rect x="542" y="202" width="1" height="39" fill="#ff0000"/><rect x="540" y="206" width="5" height="20" fill="#ff0000"/><rect x="541" y="207" width="3" height="18" fill="#ff4500"/><rect x="550" y="173" width="1" height="48" fill="#ff0000"/><rect x="548" y="199" width="5" height="8" fill="#ff0000"/><rect x="549" y="200" width="3" height="6" fill="#ff4500"/><rect x="558" y="192" width="1" height="11" fill="#ff0000"/><rect x="556" y="195" width="5" height="5" fill="#ff0000"/><rect x="557" y="196" width="3" height="3" fill="#ff4500"/><rect x="566" y="186" width="1" height="33" fill="#32cd32"/><rect x="564" y="192" width="5" height="5" fill="#32cd32"/><rect x="574" y="180" width="1" height="31" fill="#32cd32"/><rect x="572" y="196" width="5" height="2" fill="#32cd32"/><rect x="582" y="190" width="1" height="39" fill="#32cd32"/><rect x="580" y="197" width="5" height="18" fill="#32cd32"/><rect x="590" y="209" width="1" height="32" fill="#32cd32"/><rect x="588" y="214" width="5" height="18" fill="#32cd32"/><rect x="598" y="184" width="1" height="48" fill="#ff0000"/><rect x="596" y="212" width="5" height="20" fill="#ff0000"/><rect x="597" y="213" width="3" height="18" fill="#ff4500"/><rect x="606" y="209" width="1" height="17" fill="#32cd32"/><rect x="604" y="211" width="5" height="14" fill="#32cd32"/><rect x="614" y="214" width="1" height="32" fill="#32cd32"/><rect x="612" y="229" width="5" height="6" fill="#32cd32"/><rect x="622" y="229" width="1" height="31" fill="#32cd32"/><rect x="620" y="234" width="5" height="14" fill="#32cd32"/><rect x="630" y="242" width="1" height="22" fill="#32cd32"/><rect x="628" y="247" width="5" height="5" fill="#32cd32"/><rect x="638" y="225" width="1" height="62" fill="#32cd32"/><rect x="636" y="251" width="5" height="22" fill="#32cd32"/><rect x="646" y="217" width="1" height="77" fill="#ff0000"/><rect x="644" y="226" width="5" height="47" fill="#ff0000"/><rect x="645" y="227" width="3" height="45" fill="#ff4500"/><rect x="654" y="212" width="1" height="15" fill="#ff0000"/><rect x="652" y="216" width="5" height="11" fill="#ff0000"/><rect x="653" y="217" width="3" height="9" fill="#ff4500"/><rect x="662" y="198" width="1" height="30" fill="#32cd32"/><rect x="660" y="216" width="5" height="9" fill="#32cd32"/><rect x="670" y="218" width="1" height="29" fill="#32cd32"/><rect x="668" y="225" width="5" height="14" fill="#32cd32"/><rect x="678" y="196" width="1" height="45" fill="#ff0000"/><rect x="676" y="206" width="5" height="33" fill="#ff0000"/><rect x="677" y="207" width="3" height="31" fill="#ff4500"/><rect x="686" y="128" width="1" height="80" fill="#ff0000"/><rect x="684" y="132" width="5" height="75" fill="#ff0000"/><rect x="685" y="133" width="3" height="73" fill="#ff4500"/><rect x="694" y="130" width="1" height="43" fill="#32cd32"/><rect x="692" y="132" width="5" height="25" fill="#32cd32"/><rect x="702" y="149" width="1" height="15" fill="#32cd32"/><rect x="700" y="156" width="5" height="7" fill="#32cd32"/><rect x="710" y="159" width="1" height="33" fill="#32cd32"/><rect x="708" y="162" width="5" height="24" fill="#32cd32"/><rect x="718" y="151" width="1" height="54" fill="#ff0000"/><rect x="716" y="173" width="5" height="13" fill="#ff0000"/><rect x="717" y="174" width="3" height="11" fill="#ff4500"/><rect x="726" y="165" width="1" height="93" fill="#32cd32"/><rect x="724" y="173" width="5" height="78" fill="#32cd32"/><rect x="734" y="248" width="1" height="34" fill="#32cd32"/><rect x="732" y="250" width="5" height="20" fill="#32cd32"/><rect x="742" y="267" width="1" height="39" fill="#32cd32"/><rect x="740" y="268" width="5" height="15" fill="#32cd32"/><rect x="750" y="277" width="1" height="10" fill="#32cd32"/><rect x="748" y="282" width="5" height="5" fill="#32cd32"/><rect x="758" y="269" width="1" height="37" fill="#32cd32"/><rect x="756" y="283" width="5" height="19" fill="#32cd32"/><rect x="766" y="277" width="1" height="34" fill="#ff0000"/><rect x="764" y="283" width="5" height="19" fill="#ff0000"/><rect x="765" y="284" width="3" height="17" fill="#ff4500"/><rect x="774" y="248" width="1" height="37" fill="#ff0000"/><rect x="772" y="265" width="5" height="19" fill="#ff0000"/><rect x="773" y="266" width="3" height="17" fill="#ff4500"/><rect x="782" y="251" width="1" height="46" fill="#32cd32"/><rect x="780" y="265" width="5" height="14" fill="#32cd32"/><rect x="790" y="256" width="1" height="35" fill="#ff0000"/><rect x="788" y="261" width="5" height="18" fill="#ff0000"/><rect x="789" y="262" width="3" height="16" fill="#ff4500"/><rect x="798" y="238" width="1" height="25" fill="#ff0000"/><rect x="796" y="245" width="5" height="16" fill="#ff0000"/><rect x="797" y="246" width="3" height="14" fill="#ff4500"/><rect x="806" y="229" width="1" height="21" fill="#32cd32"/><rect x="804" y="247" width="5" height="2" fill="#32cd32"/><rect x="814" y="242" width="1" height="31" fill="#ff0000"/><rect x="812" y="244" width="5" height="5" fill="#ff0000"/><rect x="813" y="245" width="3" height="3" fill="#ff4500"/><rect x="822" y="217" width="1" height="30" fill="#ff0000"/><rect x="820" y="225" width="5" height="19" fill="#ff0000"/><rect x="821" y="226" width="3" height="17" fill="#ff4500"/><rect x="830" y="195" width="1" height="93" fill="#32cd32"/><rect x="828" y="225" width="5" height="58" fill="#32cd32"/><rect x="838" y="244" width="1" height="54" fill="#ff0000"/><rect x="836" y="249" width="5" height="34" fill="#ff0000"/><rect x="837" y="250" width="3" height="32" fill="#ff4500"/><rect x="846" y="237" width="1" height="16" fill="#32cd32"/><rect x="844" y="248" width="5" height="3" fill="#32cd32"/><rect x="854" y="211" width="1" height="38" fill="#ff0000"/><rect x="852" y="220" width="5" height="21" fill="#ff0000"/><rect x="853" y="221" width="3" height="19" fill="#ff4500"/><rect x="862" y="214" width="1" height="30" fill="#ff0000"/><rect x="860" y="219" width="5" height="2" fill="#ff0000"/><rect x="870" y="201" width="1" height="53" fill="#32cd32"/><rect x="868" y="219" width="5" height="25" fill="#32cd32"/><rect x="878" y="225" width="1" height="50" fill="#32cd32"/><rect x="876" y="243" width="5" height="22" fill="#32cd32"/><rect x="886" y="261" width="1" height="27" fill="#32cd32"/><rect x="884" y="264" width="5" height="16" fill="#32cd32"/><rect x="894" y="279" width="1" height="19" fill="#32cd32"/><rect x="892" y="279" width="5" height="18" fill="#32cd32"/><rect x="902" y="269" width="1" height="26" fill="#32cd32"/><rect x="900" y="276" width="5" height="12" fill="#32cd32"/><rect x="910" y="280" width="1" height="13" fill="#ff0000"/><rect x="908" y="283" width="5" height="5" fill="#ff0000"/><rect x="909" y="284" width="3" height="3" fill="#ff4500"/></g>
<g shape-rendering="crispEdges">
<rect x="662" y="197" width="307" height="2" fill="#f8222c"/>
<rect x="667" y="258" width="297" height="2" fill="#8fc800"/>
<rect x="482" y="357" width="489" height="2" fill="#2080e0"/>
</g>
<path d="M6 558h2v1h-2zM8 557h2v1h-2zM10 556h2v1h-2zM12 555h2v1h-2zM14 554h11v1h-11zM25 553h4v1h-4zM29 552h3v1h-3zM32 553h3v1h-3zM35 554h2v1h-2zM37 555h2v1h-2zM39 554h1v1h-1zM40 553h1v1h-1zM41 552h1v1h-1zM42 550h1v2h-1zM43 549h1v1h-1zM44 548h1v1h-1zM45 547h1v1h-1zM46 546h2v1h-2zM48 547h2v1h-2zM50 548h2v1h-2zM52 549h3v1h-3zM54 550h1v1h-1zM55 547h1v2h-1zM56 545h1v2h-1zM57 543h1v2h-1zM58 540h1v3h-1zM59 538h1v2h-1zM60 536h1v2h-1zM61 534h1v2h-1zM62 532h5v1h-5zM62 533h1v1h-1zM67 531h6v1h-6zM73 532h4v1h-4zM77 533h4v1h-4zM81 532h4v1h-4zM85 531h3v1h-3zM88 530h3v1h-3zM91 529h2v1h-2zM93 528h2v1h-2zM95 527h2v1h-2zM97 526h2v1h-2zM99 525h1v1h-1zM100 524h2v1h-2zM102 523h3v1h-3zM105 522h4v1h-4zM109 521h2v1h-2zM111 522h1v1h-1zM112 523h1v1h-1zM113 524h1v1h-1zM114 525h1v2h-1zM115 527h1v1h-1zM116 528h1v1h-1zM117 529h1v1h-1zM118 530h1v1h-1zM119 531h2v1h-2zM121 532h2v1h-2zM123 533h1v1h-1zM124 534h2v1h-2zM126 535h2v1h-2zM128 536h2v1h-2zM130 537h2v1h-2zM132 538h2v1h-2zM134 539h5v1h-5zM139 538h8v1h-8zM147 537h4v1h-4zM151 536h2v1h-2zM153 535h2v1h-2zM155 534h1v1h-1zM156 533h2v1h-2zM158 532h1v1h-1zM159 531h1v1h-1zM160 530h1v1h-1zM161 529h2v1h-2zM163 528h1v1h-1zM164 527h1v1h-1zM165 526h1v1h-1zM166 525h3v1h-3zM169 524h4v1h-4zM173 523h2v1h-2zM175 524h1v1h-1zM176 525h1v1h-1zM177 526h2v1h-2zM179 527h1v1h-1zM180 528h1v1h-1zM181 529h1v1h-1zM182 530h1v1h-1zM183 531h1v1h-1zM184 532h1v1h-1zM185 533h2v1h-2zM187 534h1v1h-1zM188 535h1v1h-1zM189 536h1v1h-1zM190 537h5v1h-5zM195 536h5v1h-5zM200 537h3v1h-3zM203 538h2v1h-2zM205 539h3v1h-3zM208 540h3v1h-3zM211 541h2v1h-2zM213 542h6v1h-6zM219 543h6v1h-6zM225 542h4v1h-4zM229 541h3v1h-3zM232 542h3v1h-3zM235 543h2v1h-2zM237 544h10v1h-10zM247 542h1v2h-1zM248 540h1v2h-1zM249 538h1v2h-1zM250 537h1v1h-1zM251 535h1v2h-1zM252 533h1v2h-1zM253 531h1v2h-1zM254 530h3v1h-3zM257 531h4v1h-4zM261 532h10v1h-10zM271 531h1v1h-1zM272 530h1v1h-1zM273 529h2v1h-2zM275 528h1v1h-1zM276 527h1v1h-1zM277 526h1v1h-1zM278 525h5v1h-5zM283 526h4v1h-4zM287 527h1v2h-1zM288 529h1v2h-1zM289 531h1v2h-1zM290 533h1v2h-1zM291 535h1v2h-1zM292 537h1v2h-1zM293 539h1v2h-1zM294 541h1v1h-1zM295 542h1v1h-1zM296 543h1v1h-1zM297 544h1v1h-1zM298 545h1v1h-1zM299 546h1v1h-1zM300 547h1v1h-1zM301 548h1v1h-1zM302 549h5v1h-5zM307 548h8v1h-8zM315 549h5v1h-5zM320 550h2v1h-2zM322 551h2v1h-2zM324 552h2v1h-2zM326 553h2v1h-2zM328 552h3v1h-3zM331 551h2v1h-2zM333 550h2v1h-2zM335 549h2v1h-2zM337 548h2v1h-2zM339 547h1v1h-1zM340 546h2v1h-2zM342 545h5v1h-5zM347 546h4v1h-4zM351 547h1v1h-1zM352 548h1v1h-1zM353 549h2v1h-2zM355 550h1v1h-1zM356 551h1v1h-1zM357 552h1v1h-1zM358 553h5v1h-5zM363 552h8v1h-8zM371 551h6v1h-6zM377 552h4v1h-4zM381 553h6v1h-6zM387 552h4v1h-4zM391 553h1v1h-1zM392 554h1v1h-1zM393 555h1v1h-1zM394 556h1v1h-1zM395 557h1v1h-1zM396 558h1v1h-1zM397 559h1v1h-1zM398 560h2v1h-2zM400 561h2v1h-2zM402 562h2v1h-2zM404 563h2v1h-2zM406 564h2v1h-2zM408 565h3v1h-3zM411 566h2v1h-2zM413 567h6v1h-6zM419 566h8v1h-8zM427 567h5v1h-5zM432 566h2v1h-2zM434 565h2v1h-2zM436 564h2v1h-2zM438 563h2v1h-2zM440 564h3v1h-3zM443 565h2v1h-2zM445 566h3v1h-3zM448 565h3v1h-3zM451 564h2v1h-2zM453 563h4v1h-4zM457 562h4v1h-4zM461 561h6v1h-6zM467 562h12v1h-12zM479 563h2v1h-2zM481 564h2v1h-2zM483 565h1v1h-1zM484 566h2v1h-2zM486 567h9v1h-9zM494 566h1v1h-1zM495 563h1v3h-1zM496 560h1v3h-1zM497 557h1v3h-1zM498 554h1v3h-1zM499 551h1v3h-1zM500 548h1v3h-1zM501 545h1v3h-1zM502 543h5v1h-5zM502 544h1v1h-1zM507 542h5v1h-5zM512 541h3v1h-3zM515 540h2v1h-2zM517 539h6v1h-6zM523 540h4v1h-4zM527 539h2v1h-2zM529 538h2v1h-2zM531 537h1v1h-1zM532 536h2v1h-2zM534 535h2v1h-2zM536 534h3v1h-3zM539 533h2v1h-2zM541 532h4v1h-4zM545 531h4v1h-4zM549 530h26v1h-26zM575 531h1v1h-1zM576 532h1v1h-1zM577 533h2v1h-2zM579 534h1v1h-1zM580 535h1v1h-1zM581 536h1v1h-1zM582 537h2v1h-2zM584 538h2v1h-2zM586 539h2v1h-2zM588 540h2v1h-2zM590 541h1v1h-1zM591 540h2v1h-2zM593 539h2v1h-2zM595 538h1v1h-1zM596 537h2v1h-2zM598 536h2v1h-2zM600 537h2v1h-2zM602 538h2v1h-2zM604 539h2v1h-2zM606 540h2v1h-2zM608 541h3v1h-3zM611 542h2v1h-2zM613 543h3v1h-3zM616 544h3v1h-3zM619 545h2v1h-2zM621 546h4v1h-4zM625 547h4v1h-4zM629 548h3v1h-3zM632 549h2v1h-2zM634 550h2v1h-2zM636 551h2v1h-2zM638 552h1v1h-1zM639 550h1v2h-1zM640 549h1v1h-1zM641 547h1v2h-1zM642 546h1v1h-1zM643 544h1v2h-1zM644 543h1v1h-1zM645 541h1v2h-1zM646 540h3v1h-3zM649 539h4v1h-4zM653 538h4v1h-4zM657 539h4v1h-4zM661 540h3v1h-3zM664 541h3v1h-3zM667 542h2v1h-2zM669 543h2v1h-2zM671 542h1v1h-1zM672 541h1v1h-1zM673 540h2v1h-2zM675 539h1v1h-1zM676 538h1v1h-1zM677 537h1v1h-1zM678 536h1v1h-1zM679 534h1v2h-1zM680 533h1v1h-1zM681 532h1v1h-1zM682 530h1v2h-1zM683 529h1v1h-1zM684 528h1v1h-1zM685 526h1v2h-1zM686 525h1v1h-1zM687 526h2v1h-2zM689 527h1v1h-1zM690 528h1v1h-1zM691 529h2v1h-2zM693 530h1v1h-1zM694 531h3v1h-3zM697 532h4v1h-4zM701 533h3v1h-3zM704 534h2v1h-2zM706 535h2v1h-2zM708 536h2v1h-2zM710 537h3v1h-3zM713 536h4v1h-4zM717 535h2v1h-2zM719 536h1v2h-1zM720 538h1v2h-1zM721 540h1v2h-1zM722 542h1v1h-1zM723 543h1v2h-1zM724 545h1v2h-1zM725 547h1v2h-1zM726 549h2v1h-2zM728 550h3v1h-3zM731 551h2v1h-2zM733 552h4v1h-4zM737 553h4v1h-4zM741 554h12v1h-12zM753 555h4v1h-4zM757 556h3v1h-3zM760 555h2v1h-2zM762 554h2v1h-2zM764 553h2v1h-2zM766 552h2v1h-2zM768 551h3v1h-3zM771 550h2v1h-2zM773 549h4v1h-4zM777 550h4v1h-4zM781 551h3v1h-3zM784 550h2v1h-2zM786 549h2v1h-2zM788 548h2v1h-2zM790 547h2v1h-2zM792 546h3v1h-3zM795 545h2v1h-2zM797 544h19v1h-19zM816 543h2v1h-2zM818 542h2v1h-2zM820 541h2v1h-2zM822 540h1v1h-1zM823 541h1v2h-1zM824 543h1v1h-1zM825 544h1v1h-1zM826 545h1v2h-1zM827 547h1v1h-1zM828 548h1v1h-1zM829 549h1v2h-1zM830 551h1v1h-1zM831 550h1v1h-1zM832 549h1v1h-1zM833 548h2v1h-2zM835 547h1v1h-1zM836 546h1v1h-1zM837 545h1v1h-1zM838 544h9v1h-9zM847 543h2v1h-2zM849 542h2v1h-2zM851 541h1v1h-1zM852 540h2v1h-2zM854 539h9v1h-9zM863 540h2v1h-2zM865 541h2v1h-2zM867 542h1v1h-1zM868 543h2v1h-2zM870 544h2v1h-2zM872 545h2v1h-2zM874 546h2v1h-2zM876 547h2v1h-2zM878 548h3v1h-3zM881 549h4v1h-4zM885 550h3v1h-3zM888 551h3v1h-3zM891 552h2v1h-2zM893 553h4v1h-4zM897 552h4v1h-4zM901 551h6v1h-6zM907 550h4v1h-4z" fill="#1e90ff" shape-rendering="crispEdges"/>
<g font-family="Liberation Sans, sans-serif" fill="#000" stroke="#000" stroke-width="0.2" text-rendering="geometricPrecision"><text transform="translate(1162,59.4) scale(1,1.09)" font-size="9">0.73900</text><text transform="translate(1162,92.5) scale(1,1.09)" font-size="9">0.73460</text><text transform="translate(1162,125.5) scale(1,1.09)" font-size="9">0.73020</text><text transform="translate(1162,158.6) scale(1,1.09)" font-size="9">0.72580</text><text transform="translate(1162,191.6) scale(1,1.09)" font-size="9">0.72140</text><text transform="translate(1162,224.6) scale(1,1.09)" font-size="9">0.71710</text><text transform="translate(1162,257.7) scale(1,1.09)" font-size="9">0.71270</text><text transform="translate(1162,290.8) scale(1,1.09)" font-size="9">0.70830</text><text transform="translate(1162,323.8) scale(1,1.09)" font-size="9">0.70390</text><text transform="translate(1162,356.8) scale(1,1.09)" font-size="9">0.69950</text><text transform="translate(1162,389.9) scale(1,1.09)" font-size="9">0.69520</text><text transform="translate(1162,422.9) scale(1,1.09)" font-size="9">0.69080</text><text transform="translate(1162,456.0) scale(1,1.09)" font-size="9">0.68640</text><text transform="translate(1162,489.0) scale(1,1.09)" font-size="9">0.68200</text><text transform="translate(1160,500.7) scale(1,1.09)" font-size="9">100</text><text transform="translate(1160,526.5) scale(1,1.09)" font-size="9">70</text><text transform="translate(1160,567.2) scale(1,1.09)" font-size="9">30</text><text transform="translate(1160,592.7) scale(1,1.09)" font-size="9">0</text><text transform="translate(5,608.7) scale(1,1.07)" font-size="9.35">24 Oct 2018</text><text transform="translate(69,608.7) scale(1,1.07)" font-size="9.35">2 Nov 2018</text><text transform="translate(133,608.7) scale(1,1.07)" font-size="9.35">12 Nov 2018</text><text transform="translate(197,608.7) scale(1,1.07)" font-size="9.35">21 Nov 2018</text><text transform="translate(261,608.7) scale(1,1.07)" font-size="9.35">30 Nov 2018</text><text transform="translate(325,608.7) scale(1,1.07)" font-size="9.35">10 Dec 2018</text><text transform="translate(389,608.7) scale(1,1.07)" font-size="9.35">19 Dec 2018</text><text transform="translate(453,608.7) scale(1,1.07)" font-size="9.35">28 Dec 2018</text><text transform="translate(517,608.7) scale(1,1.07)" font-size="9.35">7 Jan 2019</text><text transform="translate(581,608.7) scale(1,1.07)" font-size="9.35">16 Jan 2019</text><text transform="translate(645,608.7) scale(1,1.07)" font-size="9.35">25 Jan 2019</text><text transform="translate(709,608.7) scale(1,1.07)" font-size="9.35">4 Feb 2019</text><text transform="translate(773,608.7) scale(1,1.07)" font-size="9.35">13 Feb 2019</text><text transform="translate(837,608.7) scale(1,1.07)" font-size="9.35">22 Feb 2019</text><text transform="translate(901,608.7) scale(1,1.07)" font-size="9.35">4 Mar 2019</text><text transform="translate(1162,286.6) scale(1,1.09)" font-size="9" fill="#fff" stroke="#fff">0.70885</text><text transform="translate(21.5,42.6) scale(1,1.08)" font-size="9.55">AUDUSD,Daily</text><text transform="translate(93,42.6) scale(1,1.08)" font-size="9.27">0.70838 0.70923 0.70764 0.70885</text><text transform="translate(10,502.7) scale(1,1.1)" font-size="9.3">RSI(14) 43.6546</text><text transform="translate(5.5,18.9) scale(1,1.07)" font-size="9.2" fill="#3c3c3c" stroke="none">M30</text><text transform="translate(36.5,18.9) scale(1,1.07)" font-size="9.2" fill="#3c3c3c" stroke="none">H1</text><text transform="translate(63.5,18.9) scale(1,1.07)" font-size="9.2" fill="#3c3c3c" stroke="none">H4</text><text transform="translate(92.6,18.9) scale(1,1.07)" font-size="9.2" fill="#3c3c3c" stroke="none">D1</text><text transform="translate(120.2,18.9) scale(1,1.07)" font-size="9.2" fill="#3c3c3c" stroke="none">W1</text><text transform="translate(146.6,18.9) scale(1,1.07)" font-size="9.2" fill="#3c3c3c" stroke="none">MN</text></g>
<g font-family="Liberation Sans, sans-serif"><text transform="translate(19.4,633.7) scale(1,1.05)" font-size="12" fill="#848484">EURUSD,Daily</text><text transform="translate(225.0,633.7) scale(1,1.05)" font-size="12" fill="#848484">USDCHF,Daily</text><text transform="translate(326.0,633.7) scale(1,1.05)" font-size="12" fill="#848484">USDCAD,Daily</text><text transform="translate(429.6,633.7) scale(1,1.05)" font-size="12" fill="#848484">USDCNH,H4</text><text transform="translate(520.8,633.7) scale(1,1.05)" font-size="12" fill="#848484">USDJPY,Daily</text><text transform="translate(618.0,633.7) scale(1,1.05)" font-size="12" fill="#848484">XAUUSD,H4</text><text transform="translate(711.0,633.7) scale(1,1.05)" font-size="12" fill="#848484">GBPUSD,H4</text><text transform="translate(803.0,633.7) scale(1,1.05)" font-size="12" fill="#848484">SP500,M15</text><text transform="translate(891.0,633.7) scale(1,1.05)" font-size="12" fill="#848484">GBPUSD,H1</text><text transform="translate(981.7,633.7) scale(1,1.05)" font-size="12" fill="#848484">DJ30,H4</text><text transform="translate(1049.0,633.7) scale(1,1.05)" font-size="12" fill="#848484">TECH100,H1</text><text transform="translate(1143.5,633.7) scale(1,1.05)" font-size="12" fill="#848484">UKC</text><text transform="translate(122.4,633.7) scale(1,1.05)" font-size="12" fill="#000">AUDUSD,Daily</text></g>
<rect x="1166" y="620" width="34" height="18" fill="#f0f0f0" shape-rendering="crispEdges"/>
<path d="M1175 625.3 L1175 630.7 L1171.7 628 Z" fill="#a0a0a0"/>
<path d="M1191 624.8 L1191 631.2 L1194.4 628 Z" fill="#000"/>
</svg>
</body></html>
